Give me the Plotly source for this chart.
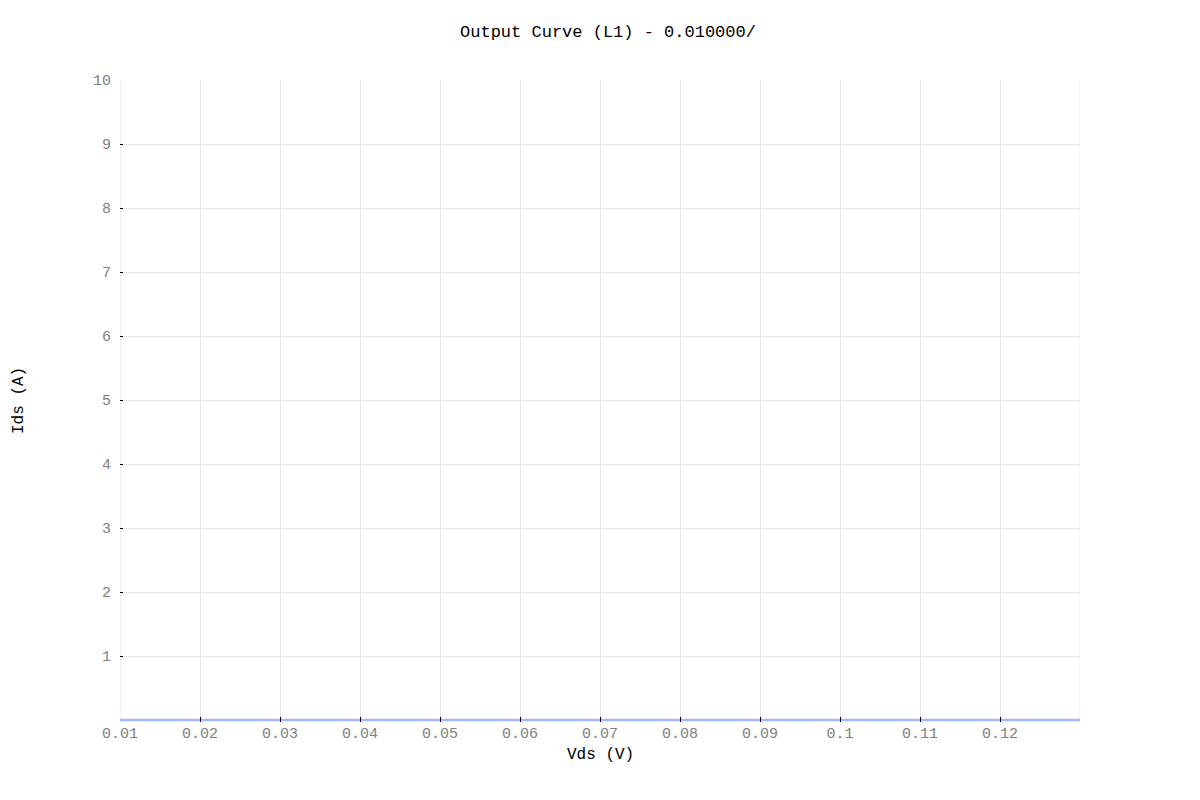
import plotly.graph_objects as go

vds = [0.01, 0.02, 0.03, 0.04, 0.05, 0.06, 0.07, 0.08, 0.09, 0.10, 0.11, 0.12, 0.13]
ids = [0, 0, 0, 0, 0, 0, 0, 0, 0, 0, 0, 0, 0]

x_ticks = [0.01, 0.02, 0.03, 0.04, 0.05, 0.06, 0.07, 0.08, 0.09, 0.1, 0.11, 0.12]
x_labels = ["0.01", "0.02", "0.03", "0.04", "0.05", "0.06", "0.07", "0.08", "0.09", "0.1", "0.11", "0.12"]
y_ticks = [1, 2, 3, 4, 5, 6, 7, 8, 9, 10]
y_labels = ["1", "2", "3", "4", "5", "6", "7", "8", "9", "10"]

FONT = "Liberation Mono, DejaVu Sans Mono, monospace"

fig = go.Figure()
fig.add_trace(go.Scatter(x=vds, y=ids, mode="lines",
                         line=dict(color="#a0b8ff", width=2.5),
                         showlegend=False, hoverinfo="x+y"))

fig.update_layout(
    width=1200, height=800,
    paper_bgcolor="white", plot_bgcolor="white",
    margin=dict(l=112, r=128, t=72, b=86, autoexpand=False),
    title=dict(text="Output Curve (L1) - 0.010000/", x=0.5, xanchor="center",
               y=1 - 23 / 800, yanchor="middle",
               font=dict(family=FONT, size=17, color="black")),
    xaxis=dict(range=[0.01, 0.13], tickmode="array", tickvals=x_ticks, ticktext=x_labels,
               automargin=False,
               showgrid=True, gridcolor="#e6e6e6", gridwidth=1,
               ticks="inside", ticklen=5, tickcolor="black", tickwidth=1,
               showline=False, zeroline=False,
               tickfont=dict(family=FONT, size=15, color="#808080")),
    yaxis=dict(range=[-2 / 64, 10], tickmode="array", tickvals=y_ticks, ticktext=y_labels,
               automargin=False,
               showgrid=True, gridcolor="#e6e6e6", gridwidth=1,
               ticks="inside", ticklen=3, tickcolor="black", tickwidth=1,
               ticklabelstandoff=8,
               showline=False, zeroline=False,
               tickfont=dict(family=FONT, size=15, color="#808080")),
    annotations=[
        dict(text="Vds (V)", xref="paper", yref="paper", x=0.5, y=-33 / 642,
             xanchor="center", yanchor="middle", showarrow=False,
             font=dict(family=FONT, size=16, color="black")),
        dict(text="Ids (A)", xref="paper", yref="paper", x=-101 / 960, y=0.5,
             xanchor="center", yanchor="middle", showarrow=False, textangle=-90,
             font=dict(family=FONT, size=16, color="black")),
    ],
)

fig.add_shape(type="line", xref="x", yref="paper", x0=0.13, x1=0.13, y0=0, y1=1,
              line=dict(color="#e6e6e6", width=1), layer="below")
fig.add_shape(type="line", xref="x", yref="paper", x0=0.01, x1=0.01, y0=0, y1=1,
              line=dict(color="#e6e6e6", width=1), layer="below")

fig.write_html("out.html")
